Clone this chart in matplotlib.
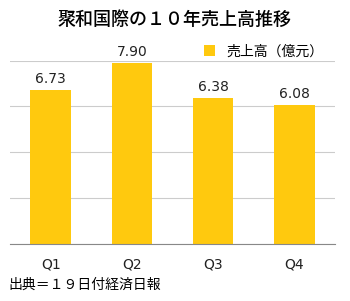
import matplotlib.pyplot as plt

plt.rcParams['font.family'] = ['Noto Sans CJK JP', 'DejaVu Sans']

quarters = ['Q1', 'Q2', 'Q3', 'Q4']
sales = [6.73, 7.90, 6.38, 6.08]

fig = plt.figure(figsize=(3.5, 3.01), dpi=100)
ax = fig.add_axes([0.029, 0.189, 0.928, 0.61])

bars = ax.bar(range(len(quarters)), sales, width=0.5, color='#FFC90E',
              label='売上高（億元）', zorder=2)
for i, v in enumerate(sales):
    ax.text(i, v + 0.15, f'{v:.2f}', ha='center', va='bottom', fontsize=10,
            family=['DejaVu Sans'], color='#222222')

ax.set_xlim(-0.5, 3.5)
ax.set_ylim(0, 8)
ax.set_yticks([0, 2, 4, 6, 8])
ax.yaxis.grid(True, color='#cccccc', linewidth=0.8, zorder=0)
ax.tick_params(left=False, labelleft=False, bottom=False, labelsize=10, pad=6)
ax.set_xticks(range(len(quarters)))
ax.set_xticklabels(quarters, family=['DejaVu Sans'], color='#222222')
for s in ['top', 'right', 'left']:
    ax.spines[s].set_visible(False)
ax.spines['bottom'].set_color('#888888')

ax.legend(loc='lower left', bbox_to_anchor=(0.58, 0.98), frameon=False,
          fontsize=10, handlelength=0.8, handleheight=0.8, borderaxespad=0)

fig.text(0.5, 0.935, '聚和国際の１０年売上高推移', ha='center', va='center',
         fontsize=13, fontweight='medium')
fig.text(0.025, 0.055, '出典＝１９日付経済日報', ha='left', va='center', fontsize=10)

fig.savefig('out.png', dpi=100)
